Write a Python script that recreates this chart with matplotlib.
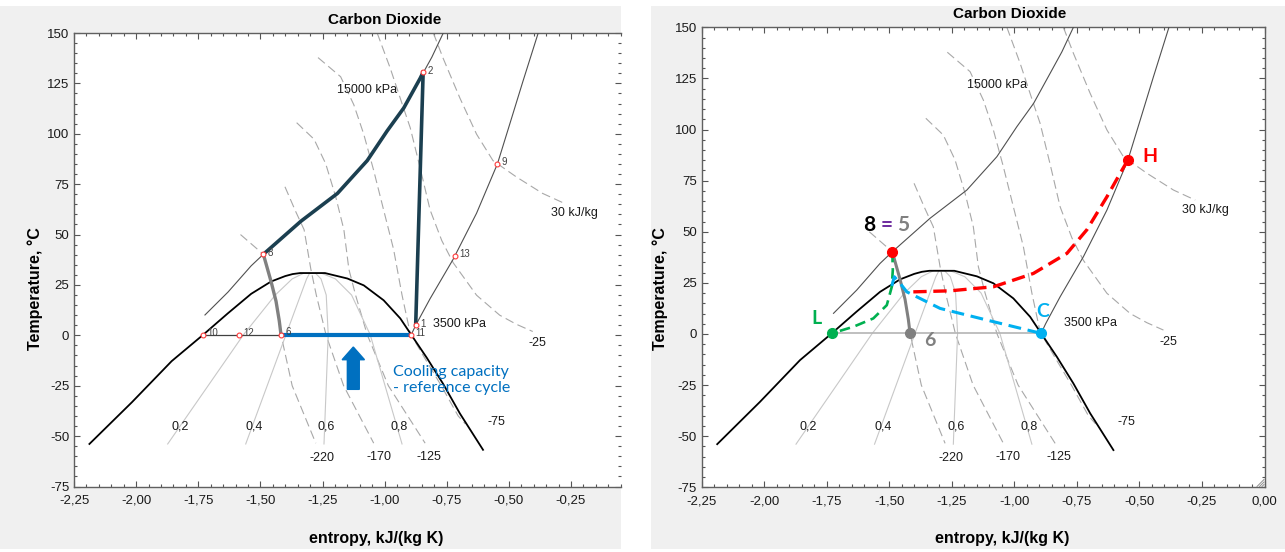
import numpy as np
import matplotlib.pyplot as plt
from matplotlib.patches import Rectangle
from matplotlib.ticker import MultipleLocator, FuncFormatter

plt.rcParams['font.family'] = ['Liberation Sans', 'DejaVu Sans']
plt.rcParams['axes.unicode_minus'] = False
BOLDF = ['Lato', 'DejaVu Sans']

# ---------------- data (entropy kJ/(kg K), temperature degC) ----------------
# saturation dome
dome_liq_s = [-2.188, -2.017, -1.857, -1.73, -1.631, -1.537, -1.457, -1.40, -1.37, -1.34]
dome_liq_T = [-53.9, -33.2, -12.8, 0.3, 10.9, 20.6, 26.7, 29.4, 30.4, 30.9]
dome_vap_s = [-1.24, -1.217, -1.15, -1.084, -1.004, -0.937, -0.893, -0.83, -0.764, -0.697, -0.604]
dome_vap_T = [30.9, 30.2, 28.2, 24.8, 17.4, 8.4, 0.3, -11.2, -24.2, -38.8, -56.8]

# quality lines
qual_T = [-53.9, 0.3, 20, 28, 30.8]
qual_lines = {
    '0,2': [-1.873, -1.568, -1.44, -1.372, -1.326],
    '0,4': [-1.559, -1.397, -1.338, -1.314, -1.302],
    '0,6': [-1.244, -1.227, -1.235, -1.256, -1.278],
    '0,8': [-0.930, -1.058, -1.133, -1.198, -1.254],
}

# isobars
p15000_s = [-1.723, -1.63, -1.537, -1.488, -1.337, -1.19, -1.07, -0.99, -0.923, -0.857, -0.81, -0.764]
p15000_T = [10.1, 21.5, 34.5, 40.2, 56.6, 70.4, 86.7, 101.4, 112.8, 127.5, 138, 150]
p3500_s = [-0.893, -0.875, -0.817, -0.724, -0.63, -0.546, -0.497, -0.444, -0.382]
p3500_T = [0.3, 5.0, 18.2, 37.8, 60.6, 85.1, 104.6, 125.8, 150]
evap_s = [-1.73, -0.893]
evap_T = [0.3, 0.3]

# isenthalps, kJ/kg
h_m220_s = [-1.58, -1.488, -1.457, -1.437, -1.424, -1.417, -1.372, -1.277]
h_m220_T = [50.0, 40.2, 26.7, 16.9, 7.2, 0.3, -25, -53.5]
h_m170_s = [-1.401, -1.36, -1.324, -1.297, -1.275, -1.236, -1.165, -1.044]
h_m170_T = [73.7, 62.0, 52.4, 32.9, 20, 0.3, -25, -53.5]
h_m125_s = [-1.354, -1.284, -1.237, -1.197, -1.164, -1.144, -1.117, -1.07, -0.985, -0.837]
h_m125_T = [105.5, 97.3, 85.1, 68.8, 52.4, 32.9, 20, 0.3, -25, -53.5]
h_m75_s = [-1.268, -1.177, -1.124, -1.084, -1.044, -1.004, -0.964, -0.93, -0.897, -0.84, -0.772, -0.704, -0.675]
h_m75_T = [137.8, 128.3, 114.4, 99.8, 81.8, 62.2, 42.7, 20, 1.0, -11, -25, -40, -44]
h_m25_s = [-1.03, -0.977, -0.93, -0.897, -0.857, -0.817, -0.77, -0.724, -0.63, -0.537, -0.47, -0.404]
h_m25_T = [150, 132.4, 115, 103, 83, 62.2, 47, 36, 19.9, 10, 5.5, 1.9]
h_30_s = [-0.804, -0.764, -0.697, -0.63, -0.564, -0.47, -0.364, -0.277]
h_30_T = [150, 137.3, 117.7, 99.8, 86.7, 78.6, 70.4, 65.5]

# reference cycle (left)
gc_s = [-1.488, -1.337, -1.19, -1.07, -0.99, -0.923, -0.857, -0.845]
gc_T = [40.2, 56.6, 70.4, 86.7, 101.4, 112.8, 127.5, 130.5]
comp_s = [-0.845, -0.875]
comp_T = [130.5, 5.0]
exp_s = [-1.488, -1.457, -1.437, -1.424, -1.417]
exp_T = [40.2, 26.7, 16.9, 7.2, 0.3]
state_names = ['2', '8', '9', '13', '1', '10', '12', '6', '11']
state_s = [-0.845, -1.488, -0.546, -0.716, -0.875, -1.73, -1.585, -1.417, -0.893]
state_T = [130.5, 40.2, 85.1, 39.6, 5.0, 0.3, 0.3, 0.3, 0.3]

# new cycle (right)
grn_s = [-1.488, -1.486, -1.49, -1.51, -1.564, -1.644, -1.73]
grn_T = [40.2, 31.3, 23.1, 14.1, 7.6, 3.5, 0.3]
blu_s = [-1.49, -1.48, -1.457, -1.43, -1.297, -1.11, -0.893]
blu_T = [23.5, 28.0, 24.8, 20.6, 12.5, 6.8, 0.3]
red_s = [-1.404, -1.257, -1.083, -0.924, -0.79, -0.71, -0.63, -0.577, -0.546]
red_T = [20.6, 21.1, 23.1, 29.6, 39.4, 51.0, 67.1, 78.6, 85.1]
pt_8 = (-1.488, 40.2)
pt_H = (-0.546, 85.1)
pt_L = (-1.73, 0.3)
pt_C = (-0.893, 0.3)
pt_6 = (-1.417, 0.3)

iso_labels = [("15000 kPa", -1.07, 121.8), ("3500 kPa", -0.697, 5.5), ("30 kJ/kg", -0.237, 60.6),
              ("-25", -0.384, -3.8), ("-75", -0.55, -43), ("-125", -0.82, -60.4),
              ("-170", -1.024, -60.4), ("-220", -1.254, -60.9),
              ("0,2", -1.824, -45.1), ("0,4", -1.526, -45.1), ("0,6", -1.234, -45.1), ("0,8", -0.94, -45.1)]

# ---------------- figure ----------------
W, H = 1285, 552
fig = plt.figure(figsize=(W / 100, H / 100), dpi=100)
fig.patch.set_facecolor('white')


def fbox(l, t, r, b):
    return [l / W, 1 - b / H, (r - l) / W, (b - t) / H]


bg_left = Rectangle((0, 1 - 549 / H), 621 / W, 543 / H, transform=fig.transFigure,
                    facecolor='#f0f0f0', edgecolor='none', zorder=0)
bg_right = Rectangle((651 / W, 1 - 549 / H), (W - 651) / W, 543 / H, transform=fig.transFigure,
                     facecolor='#f0f0f0', edgecolor='none', zorder=0)
fig.add_artist(bg_left)
fig.add_artist(bg_right)

PXU = 248.5
ax1 = fig.add_axes(fbox(74, 33, 621, 486.5))
ax2 = fig.add_axes(fbox(701.7, 27.3, 1264.5, 487.3))


def sfmt(v, p):
    if abs(v) < 1e-9:
        v = 0.0
    return f"{v:.2f}".replace('.', ',')


def style(ax, xmax):
    ax.set_xlim(-2.25, xmax)
    ax.set_ylim(-75, 150)
    ax.set_facecolor('white')
    ax.xaxis.set_major_locator(MultipleLocator(0.25))
    ax.xaxis.set_minor_locator(MultipleLocator(0.05))
    ax.yaxis.set_major_locator(MultipleLocator(25))
    ax.yaxis.set_minor_locator(MultipleLocator(5))
    ax.xaxis.set_major_formatter(FuncFormatter(sfmt))
    ax.tick_params(which='both', direction='in', top=True, right=True, color='#555555',
                   labelsize=9.5, labelcolor='#1a1a1a', width=0.8)
    ax.tick_params(which='major', length=4)
    ax.tick_params(which='minor', length=2.5)
    ax.tick_params(axis='x', pad=6)
    for sp in ax.spines.values():
        sp.set_color('#606060')
        sp.set_linewidth(1.0)


def base(ax):
    dash = (0, (8, 4))
    for s, T in [(h_m220_s, h_m220_T), (h_m170_s, h_m170_T), (h_m125_s, h_m125_T),
                 (h_m75_s, h_m75_T), (h_m25_s, h_m25_T), (h_30_s, h_30_T)]:
        ax.plot(s, T, color='#a8a8a8', lw=0.8, ls=dash, zorder=2)
    for k, s in qual_lines.items():
        ax.plot(s, qual_T, color='#c8c8c8', lw=0.8, zorder=2)
    ax.plot(p15000_s, p15000_T, color='#505050', lw=0.8, zorder=3)
    ax.plot(p3500_s, p3500_T, color='#505050', lw=0.8, zorder=3)
    ax.plot(dome_liq_s + dome_vap_s, dome_liq_T + dome_vap_T, color='black', lw=1.3, zorder=4)
    for txt, x, y in iso_labels:
        ax.text(x, y, txt, fontsize=9, ha='center', va='center', color='#1a1a1a', zorder=6)


style(ax1, -2.25 + (621 - 74) / PXU)
ax1.spines['right'].set_visible(False)
style(ax2, 0.0)

# ---- left panel
base(ax1)
ax1.plot([evap_s[0], state_s[7]], evap_T, color='#404040', lw=0.9, zorder=4)
ax1.plot([state_s[7], evap_s[1]], evap_T, color='#0070c0', lw=3, zorder=5, solid_capstyle='butt')
ax1.plot(exp_s, exp_T, color='#808080', lw=2.4, zorder=5)
ax1.plot(gc_s, gc_T, color='#1b3f50', lw=2.6, zorder=5)
ax1.plot(comp_s, comp_T, color='#1b3f50', lw=2.6, zorder=5)
ax1.plot(state_s, state_T, ls='none', marker='o', ms=3.5, mfc='white', mec='#ff3b3b', mew=0.8, zorder=7)
for n, s, T in zip(state_names, state_s, state_T):
    dy = 2 if n == '6' else 1
    ax1.annotate(n, (s, T), xytext=(3, dy), textcoords='offset points', fontsize=7,
                 color='#404040', va='center', ha='left', zorder=8)
ax1.arrow(-1.126, -26.8, 0, 21, width=0.048, head_width=0.09, head_length=6.3,
          length_includes_head=True, color='#0070c0', zorder=6)
ax1.text(-0.965, -22, "Cooling capacity\n- reference cycle", fontsize=11.5, color='#0070c0',
         family=BOLDF, ha='left', va='center', linespacing=1.15, zorder=6)

# ---- right panel
base(ax2)
ax2.plot(evap_s, evap_T, color='#b4b4b4', lw=1.2, zorder=4)
ax2.plot(exp_s, exp_T, color='#808080', lw=2.2, zorder=5)
ax2.plot(grn_s, grn_T, color='#00b050', lw=1.9, ls=(0, (4, 2.2)), zorder=6)
ax2.plot(blu_s, blu_T, color='#00b0f0', lw=2.2, ls=(0, (4.2, 2.2)), zorder=6)
ax2.plot(red_s, red_T, color='#ff0000', lw=2.4, ls=(0, (4, 2)), zorder=6)
for (s, T), c in [(pt_8, '#ff0000'), (pt_H, '#ff0000'), (pt_L, '#00b050'),
                  (pt_C, '#00b0f0'), (pt_6, '#808080')]:
    ax2.plot(s, T, 'o', ms=7, color=c, mec=c, zorder=8)
bold = dict(family=BOLDF, fontweight='bold', ha='center', va='center', zorder=9)
ax2.text(-1.58, 53.3, "8", fontsize=15, color='black', **bold)
ax2.text(-1.512, 53.3, "=", fontsize=15, color='#7030a0', **bold)
ax2.text(-1.446, 53.3, "5", fontsize=15, color='#808080', **bold)
ax2.text(-0.46, 86.7, "H", fontsize=14, color='#ff0000', **bold)
ax2.text(-1.793, 7.5, "L", fontsize=14, color='#00b050', **bold)
ax2.text(-0.886, 11.2, "C", fontsize=14, color='#00b0f0', **bold)
ax2.text(-1.337, -3.0, "6", fontsize=14, color='#808080', **bold)

# resize grip, bottom right corner
for k in range(3):
    d = 2.5 * k + 2
    fig.add_artist(plt.Line2D([(1264 - d) / W, 1264 / W], [1 - 486.5 / H, 1 - (486.5 - d) / H],
                              color='#909090', lw=0.7))

# ---- titles and axis labels
for cx, ty, yx, xx in [(385, 20, 35, 376), (1010, 14, 660, 1002)]:
    fig.text(cx / W, 1 - ty / H, "Carbon Dioxide", fontsize=11, fontweight='bold', ha='center', va='center')
    fig.text(yx / W, 1 - 289 / H, "Temperature, °C", fontsize=11.5, fontweight='bold',
             rotation=90, ha='center', va='center')
    fig.text(xx / W, 1 - 538 / H, "entropy, kJ/(kg K)", fontsize=11.5, fontweight='bold',
             ha='center', va='center')

t0 = fig.text((74 + 2.25 * PXU) / W, 1 - 503 / H, "0,00", fontsize=9.5, color='#1a1a1a',
              ha='center', va='center')
t0.set_clip_path(bg_left)

fig.savefig('out.png', dpi=100, facecolor=fig.get_facecolor())
